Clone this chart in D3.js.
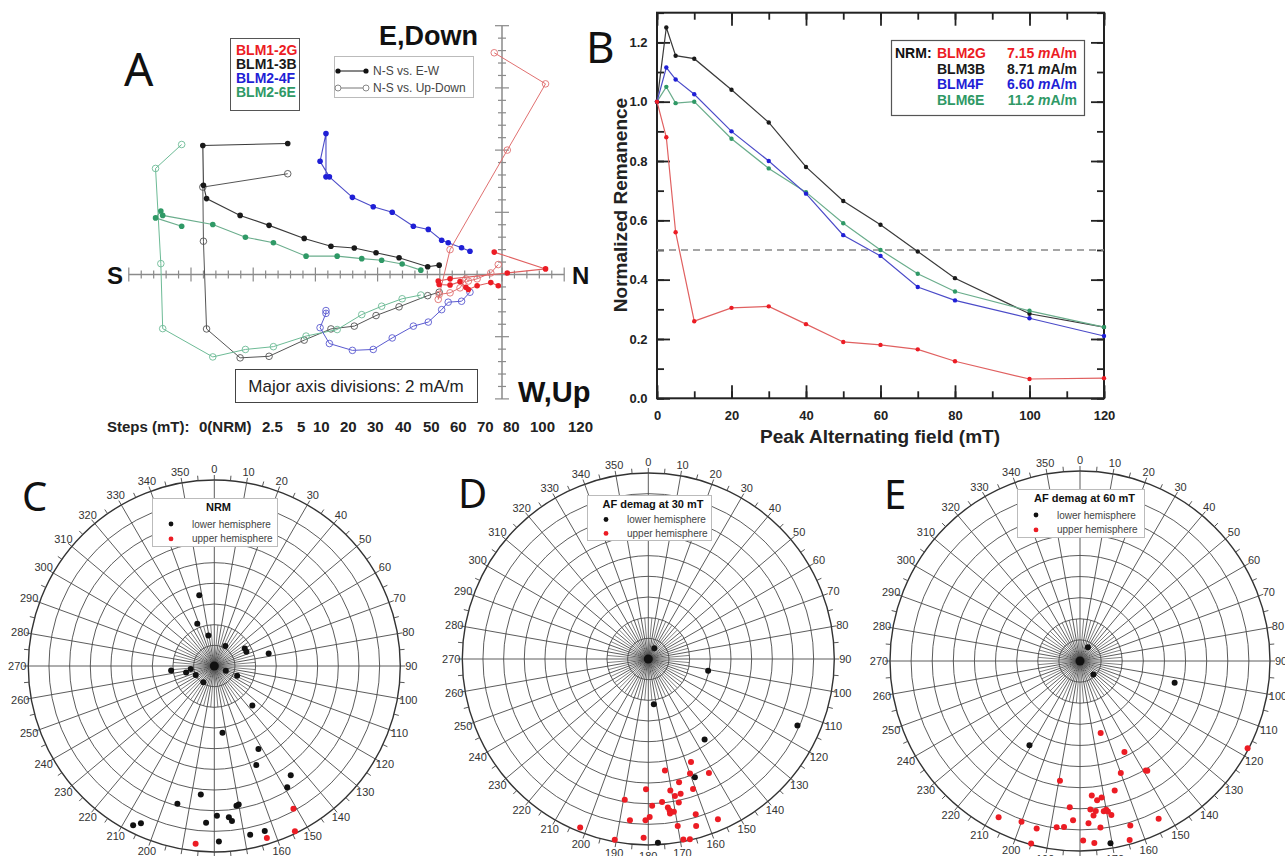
<!DOCTYPE html>
<html>
<head>
<meta charset="utf-8">
<script src="https://cdn.jsdelivr.net/npm/d3@7"></script>
<style>
  body { margin: 0; background: #fff; }
  svg { display: block; }
  text { font-family: "Liberation Sans", Arial, sans-serif; }
  .big { font-family: "Noto Sans", "Liberation Sans", sans-serif; fill: #111; }
</style>
</head>
<body>
<svg width="1285" height="856"></svg>
<script>
// ---------- data ----------
// AF steps (mT)
const steps = [0, 2.5, 5, 10, 20, 30, 40, 50, 60, 70, 80, 100, 120];
const stepLabels = ["0(NRM)", "2.5", "5", "10", "20", "30", "40", "50", "60", "70", "80", "100", "120"];

// panel A: orthogonal vector components (mA/m)
const nBLM12G = [-0.25, 1.40, 0.17, -1.67, -2.05, -2.02, -1.67, -1.35, -1.16, -1.08, -0.80, -0.36, -0.12];
const eBLM12G = [0.72, 0.18, 0.05, -0.14, -0.21, -0.32, -0.34, -0.23, -0.41, -0.48, -0.36, -0.26, -0.36];
const dBLM12G = [7.13, 6.13, 4.00, 0.80, -0.80, -0.64, -0.59, -0.43, -0.14, -0.21, -0.14, 0.05, 0.32];

const nBLM13B = [-6.89, -9.62, -9.60, -9.50, -8.42, -7.49, -6.36, -5.50, -4.75, -4.05, -3.31, -2.39, -2.02];
const eBLM13B = [4.21, 4.15, 2.87, 2.44, 1.90, 1.58, 1.16, 0.91, 0.85, 0.70, 0.54, 0.25, 0.30];
const dBLM13B = [3.24, 2.81, 1.07, -1.75, -2.68, -2.63, -2.11, -1.75, -1.66, -1.32, -1.04, -0.68, -0.57];

const nBLM24F = [-5.66, -5.66, -5.85, -5.55, -4.81, -4.14, -3.53, -2.85, -2.37, -1.94, -1.73, -1.30, -1.03];
const eBLM24F = [3.14, 4.53, 3.64, 3.14, 2.48, 2.18, 2.00, 1.55, 1.45, 1.10, 1.02, 0.86, 0.75];
const dBLM24F = [-1.16, -1.25, -1.71, -2.22, -2.44, -2.41, -2.04, -1.66, -1.53, -1.13, -0.89, -0.86, -0.57];

const nBLM26E = [-10.30, -11.14, -10.97, -10.91, -9.30, -8.25, -7.35, -6.30, -5.30, -4.51, -3.87, -3.21, -2.61];
const eBLM26E = [1.55, 1.82, 2.04, 1.90, 1.61, 1.20, 1.02, 0.59, 0.59, 0.51, 0.46, 0.34, 0.14];
const dBLM26E = [4.18, 3.41, 0.35, -1.74, -2.65, -2.41, -2.32, -1.98, -1.77, -1.29, -1.02, -0.78, -0.66];

// panel B: normalized remanence
const remBLM2G = [1.0, 0.88, 0.56, 0.26, 0.305, 0.31, 0.25, 0.19, 0.18, 0.165, 0.125, 0.065, 0.068];
const remBLM3B = [1.0, 1.25, 1.155, 1.145, 1.04, 0.93, 0.78, 0.665, 0.585, 0.495, 0.405, 0.285, 0.24];
const remBLM4F = [1.0, 1.115, 1.075, 1.025, 0.90, 0.80, 0.69, 0.55, 0.48, 0.375, 0.33, 0.27, 0.21];
const remBLM6E = [1.0, 1.05, 0.995, 1.0, 0.875, 0.775, 0.695, 0.59, 0.50, 0.42, 0.36, 0.295, 0.24];
const nrmNames = ["BLM2G", "BLM3B", "BLM4F", "BLM6E"];
const nrmValues = ["7.15", "8.71", "6.60", "11.2"];

// panels C-E: declination / inclination (negative = upper hemisphere)
const nrmDec = [348, 338, 349, 29, 60, 66, 77, 264, 257, 263, 244, 214, 112, 113, 136, 173, 152, 157, 145, 149, 186, 195, 170, 171, 179, 174.5, 173.5, 183, 205, 207, 178.5, 168, 163, 151, 154, 163, 186];
const nrmInc = [55, 68, 75, 79, 73, 73, 63, 69, 76, 78.5, 80, 80.5, 84, 78, 63.5, 57.5, 44.5, 38, 25.5, 21.5, 27.5, 21, 22, 21.5, 17.5, 16.5, 14.5, 14, 6, 3.5, 5, 6.5, 6.5, -11, -1, -3, -3.5];

const af30Dec = [29, 101, 173, 114, 145, 158.5, 177, 157.5, 171.5, 160, 152, 166, 181, 170.5, 161, 166.5, 169, 189.5, 174.5, 168, 178.5, 172.5, 172, 170.5, 172, 163, 156.5, 179.5, 181, 186.5, 170, 164, 202, 181.5, 190.5, 169, 167];
const af30Inc = [84, 60.5, 68, 11, 42.5, 28.5, 1, -36, -35.5, -31, -27.5, -28.5, -27, -25.5, -23.5, -23, -22.5, -21, -20.5, -19, -19, -17.5, -16, -15, -14.5, -11.5, -5.5, -13.5, -12, -11.5, -8, -6, -2, -3.5, -1, -1, -0.5];

const af60Dec = [30, 135, 103, 211, 170.5, 164, 154, 117.5, 149, 148.5, 160, 189.5, 165, 175, 171, 173, 184, 176, 174, 171, 170, 169.5, 168.5, 175, 153.5, 207.5, 200, 182.5, 188, 185.5, 194.5, 177, 173, 163, 164.5, 179, 175.5, 195];
const af60Inc = [82.5, 81, 44, 43.5, 2.5, -54.5, -42, -0.5, -29.5, -29, -33.5, -32.5, -26.5, -26, -24.5, -23.5, -20.5, -19.5, -18.5, -18, -18.5, -17.5, -15.5, -16.5, -6.5, -6.5, -9, -14.5, -10.5, -11, -8, -13, -10.5, -8.5, -2, -5, -3.5, -0.5];

// ---------- drawing ----------
const svg = d3.select("svg");
svg.append("rect").attr("width", 1285).attr("height", 856).attr("fill", "#fff");

const colRed = "#ec1c24", colBlack = "#1a1a1a", colBlue = "#1f1fd6", colGreen = "#2f9966";
const lineRed = "#e06060", lineBlack = "#3a3a3a", lineBlue = "#4b4bc8", lineGreen = "#6aad8c";

// ===== Panel A: orthogonal vector plot =====
const xA = d3.scaleLinear().domain([-12, 2]).range([502 - 12 * 31.1, 502 + 2 * 31.1]);
const yA = d3.scaleLinear().domain([-4, 8]).range([274.5 + 4 * 31.1, 274.5 - 8 * 31.1]);
const gA = svg.append("g");

const axCol = "#8a8a8a";
gA.append("line").attr("x1", xA(-12)).attr("x2", xA(2)).attr("y1", yA(0)).attr("y2", yA(0))
  .attr("stroke", axCol).attr("stroke-width", 1.5);
gA.append("line").attr("x1", xA(0)).attr("x2", xA(0)).attr("y1", yA(-4)).attr("y2", yA(8))
  .attr("stroke", axCol).attr("stroke-width", 1.5);
const isMajor = v => Math.abs(v / 2 - Math.round(v / 2)) < 1e-6;
d3.range(-12, 2.001, 0.4).forEach(v => {
  const h = isMajor(v) ? 7 : 4;
  gA.append("line").attr("x1", xA(v)).attr("x2", xA(v)).attr("y1", yA(0) - h).attr("y2", yA(0) + h)
    .attr("stroke", axCol).attr("stroke-width", 1.2);
});
d3.range(-4, 8.001, 0.4).forEach(v => {
  const h = isMajor(v) ? 7 : 4;
  gA.append("line").attr("y1", yA(v)).attr("y2", yA(v)).attr("x1", xA(0) - h).attr("x2", xA(0) + h)
    .attr("stroke", axCol).attr("stroke-width", 1.2);
});

const zSamples = [
  {n: nBLM13B, e: eBLM13B, d: dBLM13B, c: colBlack, l: lineBlack, o: "#555"},
  {n: nBLM26E, e: eBLM26E, d: dBLM26E, c: colGreen, l: lineGreen, o: "#6dbb96"},
  {n: nBLM24F, e: eBLM24F, d: dBLM24F, c: colBlue, l: lineBlue, o: "#5a5ad0"},
  {n: nBLM12G, e: eBLM12G, d: dBLM12G, c: colRed, l: lineRed, o: "#e07070"}
];
zSamples.forEach(s => {
  const hz = s.n.map((v, i) => [v, s.e[i]]);
  const vt = s.n.map((v, i) => [v, s.d[i]]);
  const ln = d3.line().x(p => xA(p[0])).y(p => yA(p[1]));
  gA.append("path").attr("d", ln(vt)).attr("fill", "none").attr("stroke", s.o).attr("stroke-width", 1);
  gA.append("path").attr("d", ln(hz)).attr("fill", "none").attr("stroke", s.l).attr("stroke-width", 1.1);
  gA.selectAll(null).data(vt).enter().append("circle")
    .attr("cx", p => xA(p[0])).attr("cy", p => yA(p[1])).attr("r", 3.3)
    .attr("fill", "none").attr("stroke", s.o).attr("stroke-width", 0.9);
  gA.selectAll(null).data(hz).enter().append("circle")
    .attr("cx", p => xA(p[0])).attr("cy", p => yA(p[1])).attr("r", 2.8).attr("fill", s.c);
});

gA.append("text").attr("class", "big").attr("x", 124).attr("y", 86).attr("font-size", 46).text("A");
gA.append("text").attr("x", 379).attr("y", 45).attr("font-size", 27).attr("font-weight", "bold").attr("fill", "#111").text("E,Down");
gA.append("text").attr("x", 518).attr("y", 402).attr("font-size", 29).attr("font-weight", "bold").attr("fill", "#111").text("W,Up");
gA.append("text").attr("x", 107).attr("y", 284).attr("font-size", 24).attr("font-weight", "bold").attr("fill", "#111").text("S");
gA.append("text").attr("x", 572).attr("y", 284).attr("font-size", 24).attr("font-weight", "bold").attr("fill", "#111").text("N");

// sample legend
gA.append("rect").attr("x", 230.5).attr("y", 38.5).attr("width", 69).attr("height", 72)
  .attr("fill", "#fff").attr("stroke", "#555").attr("stroke-width", 1);
[["BLM1-2G", colRed], ["BLM1-3B", colBlack], ["BLM2-4F", colBlue], ["BLM2-6E", colGreen]].forEach((d, i) => {
  gA.append("text").attr("x", 236).attr("y", 54.5 + i * 14.2).attr("font-size", 14).attr("font-weight", "bold")
    .attr("fill", d[1]).text(d[0]);
});
// symbol legend
gA.append("rect").attr("x", 334.5).attr("y", 56.5).attr("width", 139).attr("height", 41)
  .attr("fill", "#fff").attr("stroke", "#bbb").attr("stroke-width", 1);
gA.append("line").attr("x1", 337).attr("x2", 366).attr("y1", 71).attr("y2", 71).attr("stroke", "#111");
gA.append("circle").attr("cx", 338).attr("cy", 71).attr("r", 2.6).attr("fill", "#111");
gA.append("circle").attr("cx", 366).attr("cy", 71).attr("r", 2.6).attr("fill", "#111");
gA.append("line").attr("x1", 337).attr("x2", 366).attr("y1", 88).attr("y2", 88).attr("stroke", "#777");
gA.append("circle").attr("cx", 338).attr("cy", 88).attr("r", 3).attr("fill", "#fff").attr("stroke", "#888");
gA.append("circle").attr("cx", 366).attr("cy", 88).attr("r", 3).attr("fill", "#fff").attr("stroke", "#888");
gA.append("text").attr("x", 373).attr("y", 75).attr("font-size", 12).attr("fill", "#444").text("N-S vs. E-W");
gA.append("text").attr("x", 373).attr("y", 92).attr("font-size", 12).attr("fill", "#444").text("N-S vs. Up-Down");

// scale box
gA.append("rect").attr("x", 235.5).attr("y", 369.5).attr("width", 242).attr("height", 33)
  .attr("fill", "#fff").attr("stroke", "#444").attr("stroke-width", 1);
gA.append("text").attr("x", 356).attr("y", 392).attr("text-anchor", "middle").attr("font-size", 17)
  .attr("fill", "#222").text("Major axis divisions: 2 mA/m");

// steps line
const stepX = [199, 262, 297, 313, 340, 367, 395, 423, 450, 477, 503, 530, 568];
gA.append("text").attr("x", 107).attr("y", 432).attr("font-size", 15).attr("font-weight", "bold")
  .attr("fill", "#222").text("Steps (mT):");
stepLabels.forEach((t, i) => {
  gA.append("text").attr("x", stepX[i]).attr("y", 432).attr("font-size", 15).attr("font-weight", "bold")
    .attr("fill", "#222").text(t);
});

// ===== Panel B: AF demagnetization curves =====
const xB = d3.scaleLinear().domain([0, 120]).range([657, 1104]);
const yB = d3.scaleLinear().domain([0, 1.3]).range([398.3, 12.7]);
const gB = svg.append("g");
const frameCol = "#222";

function tickAxes(len, xt, yt, labels) {
  const ax = [
    [d3.axisBottom(xB).tickValues(xt).tickSize(-len), `translate(0,${yB(0)})`],
    [d3.axisTop(xB).tickValues(xt).tickSize(-len), `translate(0,${yB(1.3)})`],
    [d3.axisLeft(yB).tickValues(yt).tickSize(-len), `translate(${xB(0)},0)`],
    [d3.axisRight(yB).tickValues(yt).tickSize(-len), `translate(${xB(120)},0)`]
  ];
  ax.forEach((a, i) => {
    const g = gB.append("g").attr("transform", a[1]).call(a[0]);
    g.select(".domain").remove();
    g.selectAll("line").attr("stroke", frameCol).attr("stroke-width", 1.8);
    if (!labels || i > 2 || i === 1) g.selectAll("text").remove();
    else {
      g.selectAll("text").attr("font-size", 13).attr("font-weight", "bold").attr("fill", "#222")
        .attr("font-family", "Liberation Sans, Arial, sans-serif");
    }
    if (labels && i === 0) g.selectAll("text").attr("dy", "1.45em");
    if (labels && i === 2) g.selectAll("text").attr("dx", "-0.5em").text(d => d.toFixed(1));
  });
}
tickAxes(7, d3.range(0, 121, 10), d3.range(0, 1.31, 0.1), false);
tickAxes(13, d3.range(0, 121, 20), d3.range(0, 1.21, 0.2), true);

gB.append("rect").attr("x", xB(0)).attr("y", yB(1.3)).attr("width", xB(120) - xB(0)).attr("height", yB(0) - yB(1.3))
  .attr("fill", "none").attr("stroke", frameCol).attr("stroke-width", 2);
gB.append("line").attr("x1", xB(0)).attr("x2", xB(120)).attr("y1", yB(0.5)).attr("y2", yB(0.5))
  .attr("stroke", "#888").attr("stroke-width", 1.6).attr("stroke-dasharray", "7,5");

const bSeries = [
  {v: remBLM3B, c: colBlack, l: lineBlack},
  {v: remBLM6E, c: colGreen, l: lineGreen},
  {v: remBLM4F, c: colBlue, l: lineBlue},
  {v: remBLM2G, c: colRed, l: lineRed}
];
bSeries.forEach(s => {
  const pts = steps.map((x, i) => [x, s.v[i]]);
  gB.append("path").attr("d", d3.line().x(p => xB(p[0])).y(p => yB(p[1]))(pts))
    .attr("fill", "none").attr("stroke", s.l).attr("stroke-width", 1.2);
  gB.selectAll(null).data(pts).enter().append("circle")
    .attr("cx", p => xB(p[0])).attr("cy", p => yB(p[1])).attr("r", 2.2).attr("fill", s.c);
});

gB.append("text").attr("x", 627).attr("y", 205).attr("transform", "rotate(-90,627,205)")
  .attr("text-anchor", "middle").attr("font-size", 19).attr("font-weight", "bold").attr("fill", "#222")
  .text("Normalized Remanence");
gB.append("text").attr("x", 880).attr("y", 443).attr("text-anchor", "middle").attr("font-size", 19)
  .attr("font-weight", "bold").attr("fill", "#222").text("Peak Alternating field (mT)");
gB.append("text").attr("class", "big").attr("x", 586).attr("y", 63).attr("font-size", 44).text("B");

// NRM legend
gB.append("rect").attr("x", 891.5).attr("y", 40.5).attr("width", 193).attr("height", 75)
  .attr("fill", "#fff").attr("stroke", "#555").attr("stroke-width", 1.2);
const legCols = [colRed, colBlack, colBlue, colGreen];
gB.append("text").attr("x", 895).attr("y", 58).attr("font-size", 14).attr("font-weight", "bold")
  .attr("fill", "#111").text("NRM:");
nrmNames.forEach((nm, i) => {
  const y = 58 + i * 15.6;
  gB.append("text").attr("x", 937).attr("y", y).attr("font-size", 14).attr("font-weight", "bold")
    .attr("fill", legCols[i]).text(nm);
  const t = gB.append("text").attr("x", 1077).attr("y", y).attr("text-anchor", "end").attr("font-size", 14)
    .attr("font-weight", "bold").attr("fill", legCols[i]);
  t.append("tspan").text(nrmValues[i] + " ");
  t.append("tspan").attr("font-style", "italic").text("m");
  t.append("tspan").text("A/m");
});

// ===== Panels C-E: stereonets =====
function stereonet(cx, cy, R, letter, title, box, decs, incs) {
  const g = svg.append("g");
  const rS = d3.scaleLinear().domain([90, 0]).range([0, R]);
  const pos = (dec, r) => [cx + r * Math.sin(dec * Math.PI / 180), cy - r * Math.cos(dec * Math.PI / 180)];
  const grid = "#4a4a4a";
  d3.range(80, -1, -10).forEach(inc => {
    g.append("circle").attr("cx", cx).attr("cy", cy).attr("r", rS(inc)).attr("fill", "none")
      .attr("stroke", inc === 0 ? "#333" : grid).attr("stroke-width", inc === 0 ? 1.4 : 0.9);
  });
  d3.range(0, 360, 5).forEach(a => {
    const rr = a % 10 === 0 ? R : rS(70);
    const p = pos(a, rr);
    g.append("line").attr("x1", cx).attr("y1", cy).attr("x2", p[0]).attr("y2", p[1])
      .attr("stroke", grid).attr("stroke-width", a % 10 === 0 ? 0.9 : 0.7);
  });
  g.append("circle").attr("cx", cx).attr("cy", cy).attr("r", 4.5).attr("fill", "#111");
  d3.range(0, 360, 5).forEach(a => {
    const p1 = pos(a, R), p2 = pos(a, R + 5);
    g.append("line").attr("x1", p1[0]).attr("y1", p1[1]).attr("x2", p2[0]).attr("y2", p2[1])
      .attr("stroke", "#444").attr("stroke-width", 0.9);
  });
  d3.range(0, 360, 10).forEach(a => {
    const p = pos(a, R + 11);
    g.append("text").attr("x", p[0]).attr("y", p[1]).attr("dy", "0.35em").attr("text-anchor", "middle")
      .attr("font-size", 11).attr("fill", "#333").text(a);
  });
  // data points
  const pts = decs.map((d, i) => ({dec: d, inc: incs[i]}));
  g.selectAll(null).data(pts).enter().append("circle")
    .attr("cx", d => pos(d.dec, rS(Math.abs(d.inc)))[0])
    .attr("cy", d => pos(d.dec, rS(Math.abs(d.inc)))[1])
    .attr("r", 3).attr("fill", d => d.inc >= 0 ? "#111" : colRed);
  // legend
  g.append("rect").attr("x", box[0] + 0.5).attr("y", box[1] + 0.5).attr("width", box[2]).attr("height", box[3])
    .attr("fill", "#fff").attr("stroke", "#bbb").attr("stroke-width", 1);
  g.append("text").attr("x", box[0] + box[2] / 2 + 4).attr("y", box[1] + 13).attr("text-anchor", "middle")
    .attr("font-size", 11).attr("font-weight", "bold").attr("fill", "#111").text(title);
  [["lower hemisphere", "#111"], ["upper hemisphere", colRed]].forEach((d, i) => {
    const y = box[1] + box[3] * 0.5 + 2 + i * box[3] * 0.31;
    g.append("circle").attr("cx", box[0] + 19).attr("cy", y).attr("r", 2.4).attr("fill", d[1]);
    g.append("text").attr("x", box[0] + 40).attr("y", y).attr("dy", "0.35em").attr("font-size", 10)
      .attr("fill", "#444").text(d[0]);
  });
  g.append("text").attr("class", "big").attr("x", letter[1]).attr("y", letter[2]).attr("font-size", 40).text(letter[0]);
}

stereonet(214.3, 666, 186, ["C", 22, 511], "NRM", [152, 498, 125, 48], nrmDec, nrmInc);
stereonet(648.3, 659, 186, ["D", 458, 508], "AF demag at 30 mT", [587, 495, 124, 45], af30Dec, af30Inc);
stereonet(1080, 661, 190, ["E", 884, 509], "AF demag at 60 mT", [1017, 489, 127, 48], af60Dec, af60Inc);
</script>
</body>
</html>
